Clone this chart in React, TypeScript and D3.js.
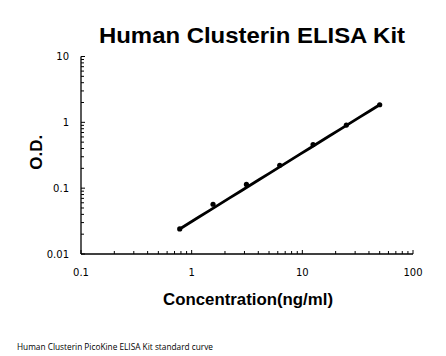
import React from "react";
import * as d3 from "d3";

const title = "Human Clusterin ELISA Kit";
const xTitle = "Concentration(ng/ml)";
const yTitle = "O.D.";
const footnote = "Human Clusterin PicoKine ELISA Kit standard curve";

const concentrations = [0.78, 1.56, 3.125, 6.25, 12.5, 25, 50];
const odValues = [0.024, 0.057, 0.114, 0.222, 0.46, 0.91, 1.85];

const xTicks = [0.1, 1, 10, 100];
const xTickLabels = ["0.1", "1", "10", "100"];
const yTicks = [0.01, 0.1, 1, 10];
const yTickLabels = ["0.01", "0.1", "1", "10"];

const W = 446;
const H = 356;
const left = 81;
const right = 413;
const top = 56.5;
const bottom = 254;

export default function App() {
  const x = d3.scaleLog().domain([0.1, 100]).range([left, right]);
  const y = d3.scaleLog().domain([0.01, 10]).range([bottom, top]);

  const minorX: number[] = [];
  for (let d = 0.1; d < 100; d *= 10) for (let k = 2; k <= 9; k++) minorX.push(d * k);
  const minorY: number[] = [];
  for (let d = 0.01; d < 10; d *= 10) for (let k = 2; k <= 9; k++) minorY.push(d * k);

  const pts = concentrations.map((c, i) => [c, odValues[i]] as [number, number]);
  // standard-curve trend line (power curve, straight in log-log) spanning first to last standard
  const n = pts.length;
  const b = Math.log10(pts[n - 1][1] / pts[0][1]) / Math.log10(pts[n - 1][0] / pts[0][0]);
  const trend = d3.range(0, 21).map((i) => {
    const lx = Math.log10(pts[0][0]) + (Math.log10(pts[n - 1][0] / pts[0][0]) * i) / 20;
    const v = Math.pow(10, lx);
    return [v, pts[0][1] * Math.pow(v / pts[0][0], b)] as [number, number];
  });
  const line = d3
    .line<[number, number]>()
    .x((d) => x(d[0]))
    .y((d) => y(d[1]));

  return (
    <svg width={W} height={H} style={{ position: "absolute", left: 0, top: 0, background: "#fff" }}>
      <rect width={W} height={H} fill="#fff" />
      <text
        x={99}
        y={43}
        textLength={306}
        lengthAdjust="spacingAndGlyphs"
        fontFamily="Liberation Sans, Arial, sans-serif"
        fontWeight="bold"
        fontSize={22}
        fill="#000"
      >
        {title}
      </text>
      {/* axes */}
      <line x1={left} x2={left} y1={top} y2={bottom} stroke="#000" strokeWidth={1.3} />
      <line x1={left} x2={right} y1={bottom} y2={bottom} stroke="#000" strokeWidth={1.3} />
      {xTicks.map((t) => (
        <line key={"xt" + t} x1={x(t)} x2={x(t)} y1={bottom} y2={bottom - 4} stroke="#000" strokeWidth={1} />
      ))}
      {minorX.map((t) => (
        <line key={"xm" + t} x1={x(t)} x2={x(t)} y1={bottom} y2={bottom - 3} stroke="#000" strokeWidth={1} />
      ))}
      {yTicks.map((t) => (
        <line key={"yt" + t} x1={left} x2={left + 4} y1={y(t)} y2={y(t)} stroke="#000" strokeWidth={1} />
      ))}
      {minorY.map((t) => (
        <line key={"ym" + t} x1={left} x2={left + 3} y1={y(t)} y2={y(t)} stroke="#000" strokeWidth={1} />
      ))}
      {xTicks.map((t, i) => (
        <text
          key={"xl" + t}
          x={x(t)}
          y={276}
          textAnchor="middle"
          fontFamily="DejaVu Sans, Verdana, sans-serif"
          fontSize={10}
          fill="#000"
        >
          {xTickLabels[i]}
        </text>
      ))}
      {yTicks.map((t, i) => (
        <text
          key={"yl" + t}
          x={69}
          y={y(t) + 3.5}
          textAnchor="end"
          fontFamily="DejaVu Sans, Verdana, sans-serif"
          fontSize={10}
          fill="#000"
        >
          {yTickLabels[i]}
        </text>
      ))}
      <text
        transform={`translate(42,${(top + bottom) / 2 - 3}) rotate(-90)`}
        textAnchor="middle"
        fontFamily="Liberation Sans, Arial, sans-serif"
        fontWeight="bold"
        fontSize={17}
        fill="#000"
      >
        {yTitle}
      </text>
      <text
        x={163}
        y={305}
        textLength={170}
        lengthAdjust="spacingAndGlyphs"
        fontFamily="Liberation Sans, Arial, sans-serif"
        fontWeight="bold"
        fontSize={16}
        fill="#000"
      >
        {xTitle}
      </text>
      <text
        x={17}
        y={350}
        textLength={196}
        lengthAdjust="spacingAndGlyphs"
        fontFamily="Open Sans, sans-serif"
        fontSize={9}
        fill="#000"
      >
        {footnote}
      </text>
      <path d={line(trend) || ""} fill="none" stroke="#000" strokeWidth={2.8} strokeLinecap="round" />
      {pts.map((p) => (
        <circle key={"p" + p[0]} cx={x(p[0])} cy={y(p[1])} r={2.6} fill="#000" />
      ))}
    </svg>
  );
}
